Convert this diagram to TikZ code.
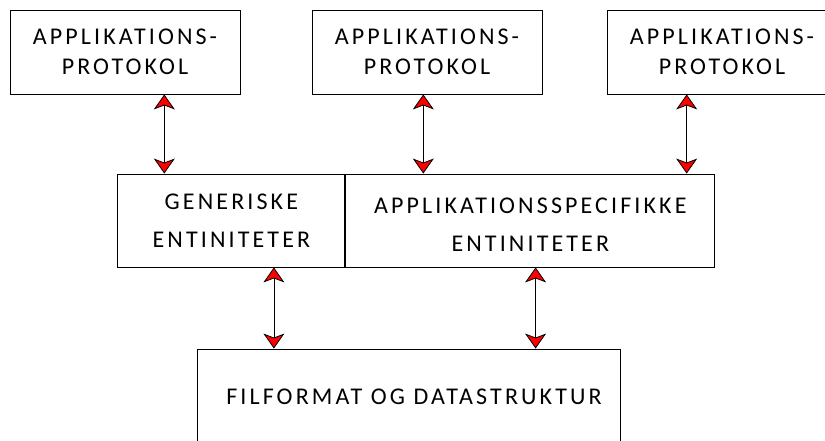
\documentclass[tikz,border=0pt]{standalone}
\usepackage{fontspec}
\setmainfont{Carlito}[LetterSpace=13]
\usepackage{tikz}
\usetikzlibrary{arrows.meta,positioning}

\begin{document}
\begin{tikzpicture}[
  x=1pt, y=-1pt,
  box/.style={draw, line width=0.9pt, align=center, inner sep=0pt, font=\fontsize{24}{30}\selectfont},
  proto/.style={box, minimum width=230pt, minimum height=84pt},
  entity/.style={box, minimum height=93pt, font=\fontsize{24}{38}\selectfont},
  biarr/.style={{Stealth[length=15pt, width=21pt, inset=4pt, fill=red]}-{Stealth[length=15pt, width=21pt, inset=4pt, fill=red]}, line width=0.8pt}
]
  \useasboundingbox (0,0) rectangle (825,441);
  \clip (0,0) rectangle (825,441);
  % protocol boxes on top
  \node[proto] (proto1) at (125,52) {APPLIKATIONS-\\PROTOKOL};
  \node[proto] (proto2) at (427,52) {APPLIKATIONS-\\PROTOKOL};
  \node[proto] (proto3) at (722,52) {APPLIKATIONS-\\PROTOKOL};
  % entity layer
  \node[entity, minimum width=227pt] (gen) at (231.4,220.5) {GENERISKE\\ENTINITETER};
  \node[entity, minimum width=369pt, right=0pt of gen] (spec) {\rule{0pt}{23pt}APPLIKATIONSSPECIFIKKE\\ENTINITETER};
  % file format
  \node[box, minimum width=423pt, minimum height=96pt] (fil) at (408.5,397) {\hspace*{11pt}FILFORMAT OG DATASTRUKTUR};

  \draw[biarr] ([xshift=39.3pt]proto1.south) -- ([xshift=39.3pt]proto1.south |- gen.north);
  \draw[biarr] ([xshift=-3.7pt]proto2.south) -- ([xshift=-3.7pt]proto2.south |- spec.north);
  \draw[biarr] ([xshift=-35.3pt]proto3.south) -- ([xshift=-35.3pt]proto3.south |- spec.north);
  \draw[biarr] ([xshift=42.5pt]gen.south) -- ([xshift=42.5pt]gen.south |- fil.north);
  \draw[biarr] ([xshift=5.3pt]spec.south) -- ([xshift=5.3pt]spec.south |- fil.north);
\end{tikzpicture}
\end{document}
